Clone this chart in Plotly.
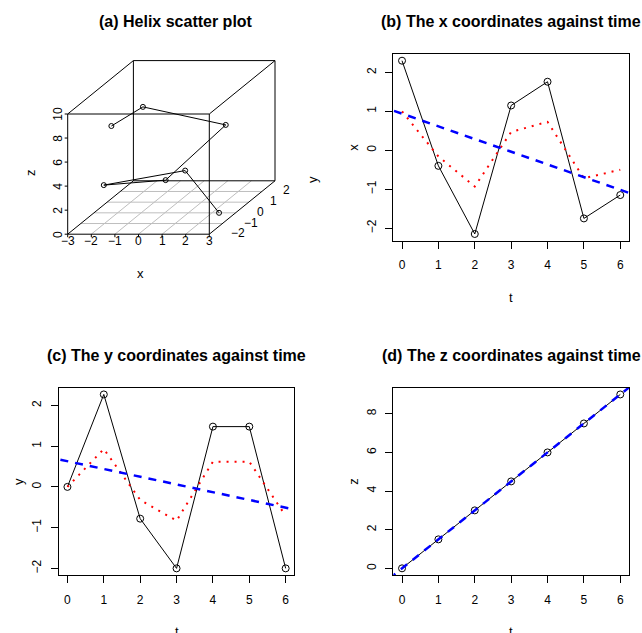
import plotly.graph_objects as go

W, H = 642, 633
FONT = "Liberation Sans, Arial, Helvetica, sans-serif"

# ---- data -------------------------------------------------------------
t = [0, 1, 2, 3, 4, 5, 6]
x = [2.30, -0.40, -2.15, 1.15, 1.76, -1.75, -1.15]
y = [0.00, 2.27, -0.78, -2.00, 1.48, 1.48, -2.00]
z = [0.0, 1.5, 3.0, 4.5, 6.0, 7.5, 9.0]

# smoothed coordinates (red dotted)
x_smooth = [1.00, -0.16, -0.93, 0.47, 0.73, -0.72, -0.50]
y_smooth = [0.00, 0.93, -0.32, -0.83, 0.62, 0.62, -0.71]

# least-squares trend lines (intercept, slope) (blue dashed)
x_trend = (0.94, -0.326)
y_trend = (0.63, -0.19)
z_trend = (0.0, 1.5)

t_ticks = [0, 1, 2, 3, 4, 5, 6]
xy_ticks = [-2, -1, 0, 1, 2]
z_ticks = [0, 2, 4, 6, 8]

# 3-D box limits and tick values for the helix panel
box_x = [-3, 3]
box_y = [-2, 3]
box_z = [0, 10]
x3_ticks = [-3, -2, -1, 0, 1, 2, 3]
y3_ticks = [-2, -1, 0, 1, 2]
y3_grid = [-1, 0, 1, 2]
z3_ticks = [0, 2, 4, 6, 8, 10]

fig = go.Figure()


def xdom(a, b):
    return [a / W, b / W]


def ydom(top, bottom):
    return [1 - bottom / H, 1 - top / H]


# ---- panels (b), (c), (d): time series ---------------------------------
panels = [
    # name, values, smooth, trend, px box (x0, y0, x1, y1), y range, y ticks, ylabel
    ("b", x, x_smooth, x_trend, (393.3, 53.7, 629.0, 241.0), [-2.33, 2.48], xy_ticks, "x"),
    ("c", y, y_smooth, y_trend, (58.7, 387.5, 294.4, 575.3), [-2.17, 2.44], xy_ticks, "y"),
    ("d", z, None, z_trend, (393.3, 387.5, 629.0, 575.3), [-0.36, 9.36], z_ticks, "z"),
]
titles = {
    "b": "(b) The x coordinates against time",
    "c": "(c) The y coordinates against time",
    "d": "(d) The z coordinates against time",
}

annotations = []
t_line = [-1, 7]
for i, (name, vals, smooth, trend, (bx0, by0, bx1, by1), yr, yt, ylab) in enumerate(panels):
    k = "" if i == 0 else str(i + 1)
    xa, ya = "x" + k, "y" + k
    fig.add_trace(go.Scatter(
        x=t, y=vals, xaxis=xa, yaxis=ya, mode="lines+markers",
        line=dict(color="black", width=1),
        marker=dict(symbol="circle-open", size=7, color="black", line=dict(width=1)),
        showlegend=False, hoverinfo="skip"))
    if smooth is not None:
        fig.add_trace(go.Scatter(
            x=t, y=smooth, xaxis=xa, yaxis=ya, mode="lines",
            line=dict(color="#ff0000", width=2, dash="2px,6px"),
            showlegend=False, hoverinfo="skip"))
    a0, a1 = trend
    fig.add_trace(go.Scatter(
        x=t_line, y=[a0 + a1 * tv for tv in t_line], xaxis=xa, yaxis=ya, mode="lines",
        line=dict(color="#0000ff", width=2.5, dash="8px,7px"),
        showlegend=False, hoverinfo="skip"))

    axis_common = dict(
        showline=True, mirror=True, linecolor="black", linewidth=1,
        ticks="outside", ticklen=7, tickwidth=1, tickcolor="black",
        showgrid=False, zeroline=False,
        tickfont=dict(family=FONT, size=12, color="black"),
    )
    fig.update_layout(**{
        ("xaxis" + k): dict(domain=xdom(bx0, bx1), range=[-0.24, 6.24],
                            tickvals=t_ticks, anchor=ya, ticklabelstandoff=6, **axis_common),
        ("yaxis" + k): dict(domain=ydom(by0, by1), range=yr, tickvals=yt,
                            tickangle=-90, anchor=xa, ticklabelstandoff=5, **axis_common),
    })

    cx = (bx0 + bx1) / 2
    annotations.append(dict(text="<b>%s</b>" % titles[name], x=cx / W, y=1 - (by0 - 32.0) / H,
                            xref="paper", yref="paper", showarrow=False,
                            font=dict(family=FONT, size=16, color="black"),
                            xanchor="center", yanchor="middle"))
    annotations.append(dict(text="t", x=cx / W, y=1 - (by1 + 56) / H,
                            xref="paper", yref="paper", showarrow=False,
                            font=dict(family=FONT, size=13, color="black"),
                            xanchor="center", yanchor="middle"))
    annotations.append(dict(text=ylab, x=(bx0 - 40) / W, y=1 - (by0 + by1) / 2 / H,
                            xref="paper", yref="paper", showarrow=False, textangle=-90,
                            font=dict(family=FONT, size=13, color="black"),
                            xanchor="center", yanchor="middle"))

# ---- panel (a): oblique 3-D projection of the helix -------------------
ORIGIN = (67.7, 234.2)     # screen position of (xmin, ymin, zmin)
SX, SZ = 23.6, 12.02       # px per unit along x and z
DX, DY = 13.14, 10.68      # px shift per unit of depth (y)


def proj(xv, yv, zv):
    px = ORIGIN[0] + (xv - box_x[0]) * SX + (yv - box_y[0]) * DX
    py = ORIGIN[1] - (zv - box_z[0]) * SZ - (yv - box_y[0]) * DY
    return px, py


def seg_trace(segs, color, width):
    xs, ys = [], []
    for p0, p1 in segs:
        a, b = proj(*p0), proj(*p1)
        xs += [a[0], b[0], None]
        ys += [a[1], b[1], None]
    return go.Scatter(x=xs, y=ys, xaxis="x4", yaxis="y4", mode="lines",
                      line=dict(color=color, width=width),
                      showlegend=False, hoverinfo="skip")


x0, x1 = box_x
y0, y1 = box_y
z0, z1 = box_z

# floor grid
grid = [((xv, y0, z0), (xv, y1, z0)) for xv in x3_ticks[1:-1]]
grid += [((x0, yv, z0), (x1, yv, z0)) for yv in y3_grid]
fig.add_trace(seg_trace(grid, "#bebebe", 1))

# box edges
edges = []
for yy in (y0, y1):
    for zz in (z0, z1):
        edges.append(((x0, yy, zz), (x1, yy, zz)))
for xx in (x0, x1):
    for zz in (z0, z1):
        edges.append(((xx, y0, zz), (xx, y1, zz)))
    for yy in (y0, y1):
        edges.append(((xx, yy, z0), (xx, yy, z1)))
fig.add_trace(seg_trace(edges, "black", 1))

# tick marks for x (down) and z (left)
tick_xs, tick_ys = [], []
for xv in x3_ticks:
    px, py = proj(xv, y0, z0)
    tick_xs += [px, px, None]
    tick_ys += [py, py + 3, None]
for zv in z3_ticks:
    px, py = proj(x0, y0, zv)
    tick_xs += [px, px - 3, None]
    tick_ys += [py, py, None]
fig.add_trace(go.Scatter(x=tick_xs, y=tick_ys, xaxis="x4", yaxis="y4", mode="lines",
                         line=dict(color="black", width=1), showlegend=False, hoverinfo="skip"))

# helix points joined in time order
hx, hy = [], []
for xv, yv, zv in zip(x, y, z):
    px, py = proj(xv, yv, zv)
    hx.append(px)
    hy.append(py)
fig.add_trace(go.Scatter(x=hx, y=hy, xaxis="x4", yaxis="y4", mode="lines+markers",
                         line=dict(color="black", width=1),
                         marker=dict(symbol="circle-open", size=5, color="black", line=dict(width=1)),
                         showlegend=False, hoverinfo="skip"))

fig.update_layout(
    xaxis4=dict(domain=xdom(0, 321), range=[0, 321], visible=False, fixedrange=True),
    yaxis4=dict(domain=ydom(0, 316), range=[316, 0], visible=False, fixedrange=True),
)


def lab3(text, px, py, angle=0, xanchor="center", size=12):
    annotations.append(dict(text=text, x=px, y=py, xref="x4", yref="y4", showarrow=False,
                            textangle=angle, xanchor=xanchor, yanchor="middle",
                            font=dict(family=FONT, size=size, color="black")))


def num(v):
    return ("\u2212%d" % -v) if v < 0 else "%d" % v


for xv in x3_ticks:
    px, py = proj(xv, y0, z0)
    lab3(num(xv), px, py + 7)
for zv in z3_ticks:
    px, py = proj(x0, y0, zv)
    lab3(num(zv), px - 10, py, angle=-90)
for yv in y3_ticks:
    px, py = proj(x1, yv, z0)
    lab3(num(yv), px + 19.5, py - 1, xanchor="left")

lab3("x", 140, 273, size=13)
lab3("z", 30, 173, angle=-90, size=13)
lab3("y", 312, 180, angle=-90, size=13)

annotations.append(dict(text="<b>(a) Helix scatter plot</b>", x=176.3 / W, y=1 - 21.3 / H,
                        xref="paper", yref="paper", showarrow=False,
                        font=dict(family=FONT, size=16, color="black"),
                        xanchor="center", yanchor="middle"))

fig.update_layout(
    width=W, height=H, margin=dict(l=0, r=0, t=0, b=0),
    paper_bgcolor="white", plot_bgcolor="rgba(0,0,0,0)",
    annotations=annotations, showlegend=False,
)

fig.write_html("out.html")
